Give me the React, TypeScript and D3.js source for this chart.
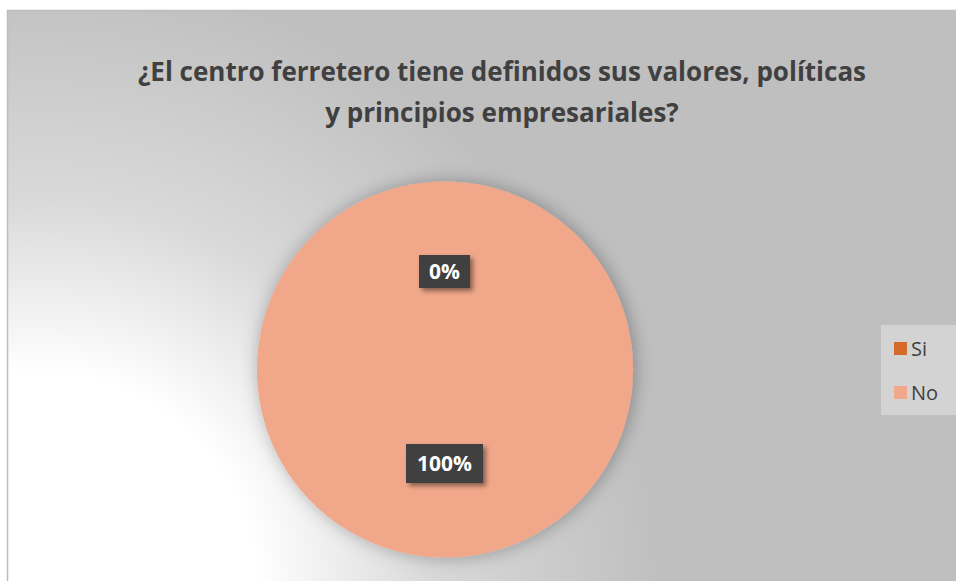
import React from "react";
import * as d3 from "d3";

const categories = ["Si", "No"];
const values = [0, 100];
const labels = ["0%", "100%"];
const colors = ["#D46B2B", "#F1A88A"];
const titleLines = [
  "¿El centro ferretero tiene definidos sus valores, políticas",
  "y principios empresariales?",
];

export default function App() {
  const W = 956, H = 581;
  const cx = 445, cy = 369.5, r = 188;
  const pie = d3.pie<number>().sort(null).value((d) => d);
  const arcs = pie(values);
  const arc = d3.arc<d3.PieArcDatum<number>>().innerRadius(0).outerRadius(r);
  const font = "'Open Sans', sans-serif";
  const legendY = d3.scalePoint<string>().domain(categories).range([349, 393]);

  return (
    <svg width={W} height={H} style={{ position: "absolute", left: 0, top: 0 }} fontFamily={font}>
      <defs>
        <radialGradient id="bg" gradientUnits="userSpaceOnUse" cx={40} cy={590} r={620}>
          <stop offset="0" stopColor="#ffffff" />
          <stop offset="0.35" stopColor="#ffffff" />
          <stop offset="0.63" stopColor="#d9d9d9" />
          <stop offset="1" stopColor="#bfbfbf" />
        </radialGradient>
        <filter id="sh" x="-30%" y="-30%" width="170%" height="180%">
          <feDropShadow dx="3" dy="3" stdDeviation="2.5" floodColor="#000" floodOpacity="0.45" />
        </filter>
        <filter id="pieSh" x="-20%" y="-20%" width="140%" height="140%">
          <feDropShadow dx="2" dy="0" stdDeviation="9" floodColor="#000" floodOpacity="0.3" />
        </filter>
      </defs>
      <rect x={0} y={0} width={W} height={H} fill="#ffffff" />
      <rect x={7.5} y={10.5} width={W} height={H} fill="url(#bg)" stroke="#bdbdbd" strokeWidth={1.5} />
      <text textAnchor="middle" fill="#404040" fontWeight="bold" fontSize={26}>
        {titleLines.map((t, i) => (
          <tspan key={i} x={502} y={81 + i * 41}>{t}</tspan>
        ))}
      </text>
      <g transform={`translate(${cx},${cy})`}>
        <g filter="url(#pieSh)">
          {arcs.map((a, i) => (
            a.endAngle - a.startAngle > 0 ? <path key={i} d={arc(a) || ""} fill={colors[i]} /> : null
          ))}
        </g>
        {arcs.map((a, i) => {
          const [x, y] = arc.centroid(a);
          const w = i === 0 ? 51 : 77;
          const h = i === 0 ? 33 : 39;
          return (
            <g key={"l" + i} transform={`translate(${x - 0.5},${y + (i === 0 ? -4 : 0)})`}>
              <rect x={-w / 2} y={-h / 2} width={w} height={h} fill="#404040" filter="url(#sh)" />
              <text textAnchor="middle" dy="0.36em" fill="#ffffff" fontWeight="bold" fontSize={21}>
                {labels[i]}
              </text>
            </g>
          );
        })}
      </g>
      <rect x={881} y={325} width={75} height={90} fill="#d3d3d3" />
      {categories.map((c, i) => (
        <g key={c} transform={`translate(894,${legendY(c)})`}>
          <rect x={0} y={-7} width={13} height={13} fill={colors[i]} />
          <text x={17} dy="0.35em" fontSize={20} fill="#404040">{c}</text>
        </g>
      ))}
    </svg>
  );
}
